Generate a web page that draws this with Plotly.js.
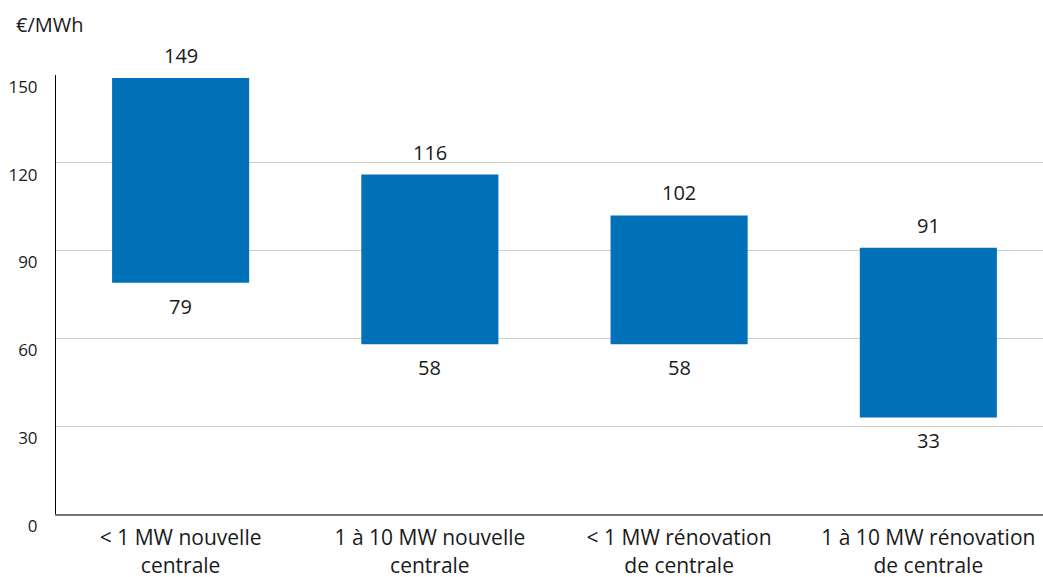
<!DOCTYPE html>
<html>
<head>
<meta charset="utf-8">
<script src="https://cdn.plot.ly/plotly-3.0.1.min.js"></script>
<style>html,body{margin:0;padding:0;background:#fff;}#chart{width:1043px;height:577px;}</style>
</head>
<body>
<div id="chart"></div>
<script>
const categories = ["< 1 MW nouvelle<br>centrale", "1 à 10 MW nouvelle<br>centrale", "< 1 MW rénovation<br>de centrale", "1 à 10 MW rénovation<br>de centrale"];
const lowValues = [79, 58, 58, 33];
const highValues = [149, 116, 102, 91];
const yTicks = [0, 30, 60, 90, 120, 150];
const unitLabel = "€/MWh";

const FONT = "'Open Sans', 'Noto Sans', sans-serif";
const TXT = "#1a1a1a";

const xs = categories.map((c, i) => i);

const bar = {
  type: "bar",
  x: xs,
  y: highValues.map((h, i) => h - lowValues[i]),
  base: lowValues,
  width: 0.55,
  marker: {color: "#0070b8"},
  hoverinfo: "skip"
};

const annotations = [];
xs.forEach((x, i) => {
  annotations.push({x: x, y: highValues[i], xref: "x", yref: "y", text: String(highValues[i]),
    showarrow: false, yanchor: "bottom", yshift: 7, font: {family: FONT, size: 20, color: TXT}});
  annotations.push({x: x, y: lowValues[i], xref: "x", yref: "y", text: String(lowValues[i]),
    showarrow: false, yanchor: "top", yshift: -8, font: {family: FONT, size: 20, color: TXT}});
});
annotations.push({xref: "paper", yref: "paper", x: -0.0426, y: 1.114, xanchor: "left", yanchor: "middle",
  text: unitLabel, showarrow: false, font: {family: FONT, size: 20, color: TXT}});

const layout = {
  width: 1043, height: 577,
  margin: {l: 56, r: 0, t: 75, b: 63},
  paper_bgcolor: "#fff", plot_bgcolor: "#fff",
  showlegend: false,
  font: {family: FONT, color: TXT},
  xaxis: {
    range: [-0.5, 3.46],
    tickmode: "array", tickvals: xs, ticktext: categories,
    showgrid: false, zeroline: false,
    showline: true, linecolor: "#777", linewidth: 2,
    ticks: "", ticklabelstandoff: 4, tickfont: {family: FONT, size: 21, color: TXT},
    fixedrange: true
  },
  yaxis: {
    range: [0, 150],
    tickmode: "array", tickvals: yTicks,
    showgrid: true, gridcolor: "#cccccc", gridwidth: 1,
    zeroline: false,
    showline: true, linecolor: "#000", linewidth: 1,
    ticks: "", ticklabelposition: "outside bottom", ticklabelstandoff: 14,
    tickfont: {family: FONT, size: 17, color: TXT},
    fixedrange: true
  },
  annotations: annotations
};

Plotly.newPlot("chart", [bar], layout, {displayModeBar: false, staticPlot: true});
</script>
</body>
</html>
